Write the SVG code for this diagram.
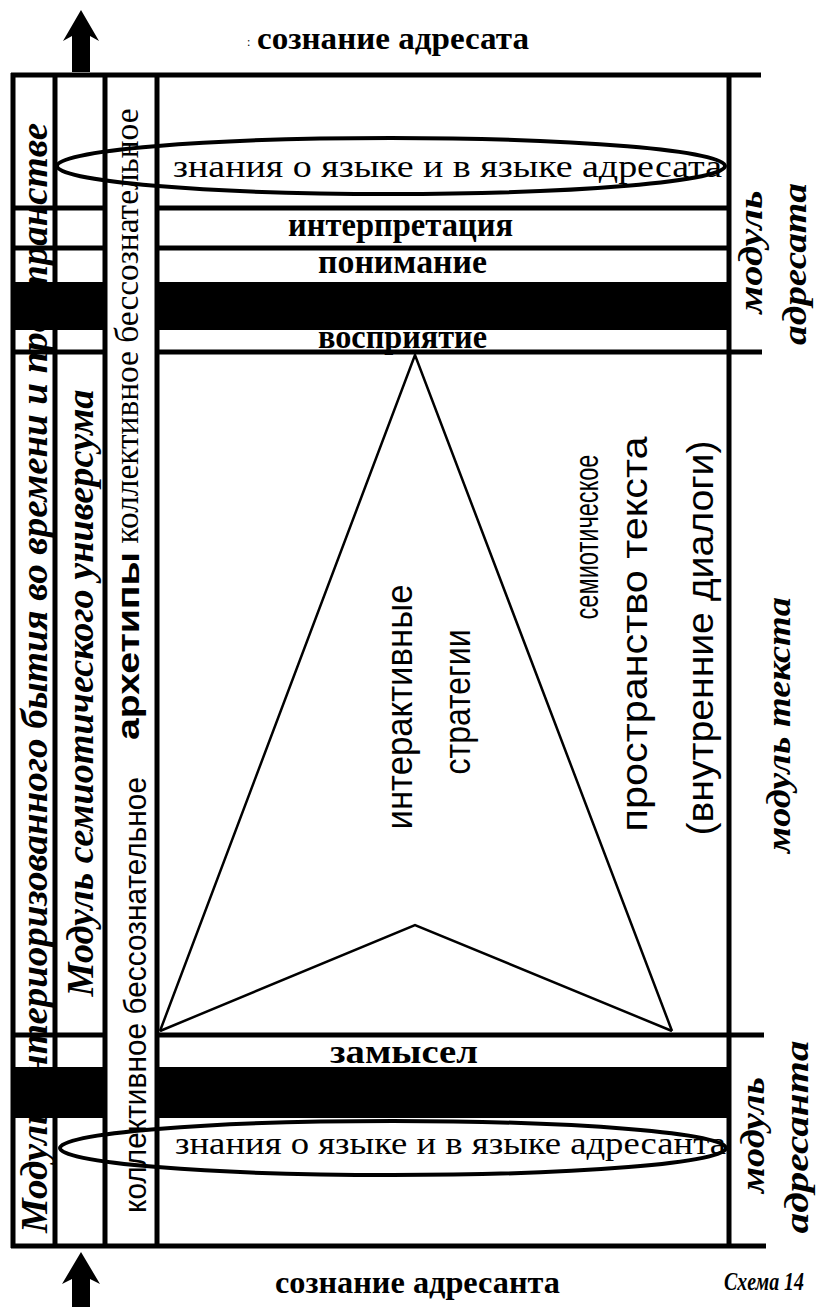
<svg xmlns="http://www.w3.org/2000/svg" width="822" height="1307" viewBox="0 0 822 1307">
<style>
.ln{stroke:#000;stroke-width:5;fill:none}
.thin{stroke:#000;stroke-width:2.5;fill:none}
.ell{stroke:#000;stroke-width:4;fill:none}
.band{fill:#000}
.sb{font-family:"Liberation Serif",serif;font-weight:bold;fill:#000}
.sr{font-family:"Liberation Serif",serif;fill:#000}
.sbi{font-family:"Liberation Serif",serif;font-weight:bold;font-style:italic;fill:#000}
.ss{font-family:"Liberation Sans",sans-serif;fill:#000}
.ssb{font-family:"Liberation Sans",sans-serif;font-weight:bold;fill:#000}
</style>
<rect width="822" height="1307" fill="#fff"/>

<g id="col1">
<text class="sbi" font-size="37" text-anchor="middle" textLength="1110" lengthAdjust="spacingAndGlyphs" transform="translate(47,678) rotate(-90)">Модуль интериоризованного бытия во времени и пространстве</text>
</g>
<g id="col2">
<text class="sbi" font-size="37" text-anchor="middle" textLength="607" lengthAdjust="spacingAndGlyphs" transform="translate(93,693) rotate(-90)">Модуль семиотического универсума</text>
</g>
<g id="col3">
<text class="ss" font-size="32" text-anchor="middle" textLength="436" lengthAdjust="spacingAndGlyphs" transform="translate(146,995) rotate(-90)">коллективное бессознательное</text>
<text class="ssb" font-size="32" text-anchor="middle" textLength="188" lengthAdjust="spacingAndGlyphs" transform="translate(139,646) rotate(-90)">архетипы</text>
<text class="sr" font-size="34" text-anchor="middle" textLength="435" lengthAdjust="spacingAndGlyphs" transform="translate(138,326) rotate(-90)">коллективное бессознательное</text>
</g>

<g id="frame">
<line class="ln" x1="13" y1="73" x2="13" y2="1248"/>
<line class="ln" x1="11" y1="75" x2="761" y2="75"/>
<line class="ln" x1="11" y1="1246" x2="766" y2="1246"/>
<line class="ln" x1="729" y1="73" x2="729" y2="1248"/>
<line class="ln" x1="55" y1="75" x2="55" y2="1246"/>
<line class="ln" x1="105" y1="75" x2="105" y2="1246"/>
<line class="ln" x1="157" y1="75" x2="157" y2="1246"/>
</g>
<g id="rows">
<line class="ln" x1="13" y1="208" x2="105" y2="208"/>
<line class="ln" x1="157" y1="208" x2="729" y2="208"/>
<line class="ln" x1="13" y1="248" x2="105" y2="248"/>
<line class="ln" x1="157" y1="248" x2="729" y2="248"/>
<rect class="band" x="13" y="282" width="92" height="48"/>
<rect class="band" x="157" y="282" width="572" height="48"/>
<line class="ln" x1="13" y1="352" x2="105" y2="352"/>
<line class="ln" x1="157" y1="352" x2="762" y2="352"/>
<line class="ln" x1="13" y1="1035" x2="105" y2="1035"/>
<line class="ln" x1="157" y1="1035" x2="764" y2="1035"/>
<rect class="band" x="13" y="1067" width="92" height="51"/>
<rect class="band" x="157" y="1067" width="572" height="51"/>
</g>

<g id="node-znaniya-adresata">
<ellipse class="ell" cx="391" cy="166" rx="334" ry="28"/>
<text class="sr" font-size="31" x="173" y="177" textLength="549" lengthAdjust="spacingAndGlyphs">знания о языке и в языке адресата</text>
</g>
<g id="node-interpretaciya">
<text class="sb" font-size="34" x="288" y="236" textLength="225" lengthAdjust="spacingAndGlyphs">интерпретация</text>
</g>
<g id="node-ponimanie">
<text class="sb" font-size="34" x="318" y="273" textLength="169" lengthAdjust="spacingAndGlyphs">понимание</text>
</g>
<g id="node-vospriyatie">
<text class="sb" font-size="34" x="318" y="348" textLength="169" lengthAdjust="spacingAndGlyphs">восприятие</text>
</g>
<g id="node-zamysel">
<text class="sb" font-size="34" x="330" y="1063" textLength="148" lengthAdjust="spacingAndGlyphs">замысел</text>
</g>
<g id="node-znaniya-adresanta">
<ellipse class="ell" cx="393" cy="1148" rx="333" ry="27"/>
<text class="sr" font-size="31" x="175" y="1154" textLength="551" lengthAdjust="spacingAndGlyphs">знания о языке и в языке адресанта</text>
</g>

<g id="connectors">
<polyline class="thin" points="160,1031 415,355 672,1031"/>
<polyline class="thin" points="160,1031 415,925 672,1031"/>
<polygon fill="#000" points="81,10 99,41 90,36 90,72 72,72 72,36 63,41"/>
<polygon fill="#000" points="81,1252 100,1284 90,1279 90,1307 72,1307 72,1279 62,1284"/>
</g>

<g id="node-triangle-texts">
<text class="ss" font-size="36" text-anchor="middle" textLength="245" lengthAdjust="spacingAndGlyphs" transform="translate(412,707) rotate(-90)">интерактивные</text>
<text class="ss" font-size="36" text-anchor="middle" textLength="145" lengthAdjust="spacingAndGlyphs" transform="translate(470,702) rotate(-90)">стратегии</text>
<text class="ss" font-size="34" text-anchor="middle" textLength="165" lengthAdjust="spacingAndGlyphs" transform="translate(598,537) rotate(-90)">семиотическое</text>
<text class="ss" font-size="36" text-anchor="middle" textLength="395" lengthAdjust="spacingAndGlyphs" transform="translate(647,634) rotate(-90)">пространство текста</text>
<text class="ss" font-size="36" text-anchor="middle" textLength="395" lengthAdjust="spacingAndGlyphs" transform="translate(713,638) rotate(-90)">(внутренние диалоги)</text>
</g>

<g id="node-module-labels">
<text class="sbi" font-size="34" text-anchor="middle" textLength="123" lengthAdjust="spacingAndGlyphs" transform="translate(762,252) rotate(-90)">модуль</text>
<text class="sbi" font-size="34" text-anchor="middle" textLength="162" lengthAdjust="spacingAndGlyphs" transform="translate(806,264) rotate(-90)">адресата</text>
<text class="sbi" font-size="34" text-anchor="middle" textLength="256" lengthAdjust="spacingAndGlyphs" transform="translate(790,725) rotate(-90)">модуль текста</text>
<text class="sbi" font-size="34" text-anchor="middle" textLength="116" lengthAdjust="spacingAndGlyphs" transform="translate(764,1135) rotate(-90)">модуль</text>
<text class="sbi" font-size="34" text-anchor="middle" textLength="193" lengthAdjust="spacingAndGlyphs" transform="translate(808,1137) rotate(-90)">адресанта</text>
</g>

<g id="node-captions">
<text class="sr" font-size="12" x="247" y="46" fill="#777">:</text>
<text class="sb" font-size="32" x="257" y="49" textLength="272" lengthAdjust="spacingAndGlyphs">сознание адресата</text>
<text class="sb" font-size="32" x="275" y="1293" textLength="285" lengthAdjust="spacingAndGlyphs">сознание адресанта</text>
<text class="sbi" font-size="25" x="724" y="1290" textLength="80" lengthAdjust="spacingAndGlyphs">Схема 14</text>
</g>
</svg>
